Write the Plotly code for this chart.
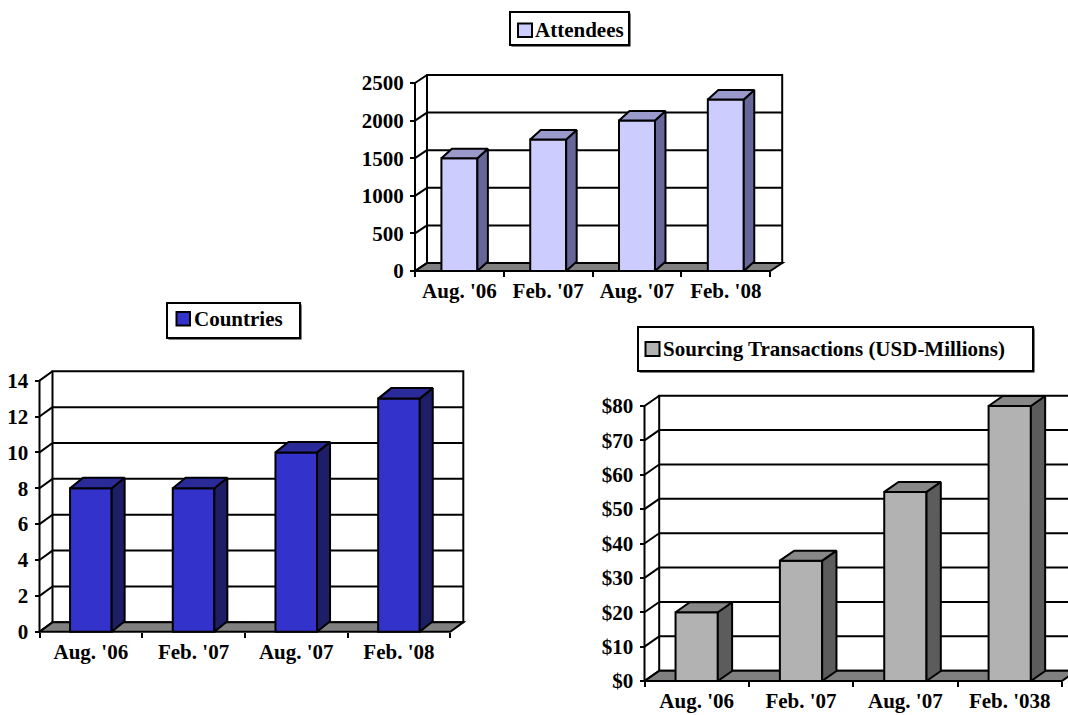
import plotly.graph_objects as go

# ---- data -------------------------------------------------------------
periods = ["Aug. '06", "Feb. '07", "Aug. '07", "Feb. '08"]
periods_sourcing = ["Aug. '06", "Feb. '07", "Aug. '07", "Feb. '038"]

attendees = [1500, 1750, 2000, 2280]
countries = [8, 8, 10, 13]
sourcing_musd = [20, 35, 55, 80]

attendees_ticks = [0, 500, 1000, 1500, 2000, 2500]
attendees_tick_labels = ["0", "500", "1000", "1500", "2000", "2500"]
countries_ticks = [0, 2, 4, 6, 8, 10, 12, 14]
countries_tick_labels = ["0", "2", "4", "6", "8", "10", "12", "14"]
sourcing_ticks = [0, 10, 20, 30, 40, 50, 60, 70, 80]
sourcing_tick_labels = ["$0", "$10", "$20", "$30", "$40", "$50", "$60", "$70", "$80"]

# ---- page geometry (pixels) -------------------------------------------
W, H = 1068, 715
FONT = dict(family="Liberation Serif, Times New Roman, serif", size=21, color="black", weight=700)
LW = 2
FLOOR = "#808080"

charts = [
    dict(name="Attendees", values=attendees, labels=periods,
         ticks=attendees_ticks, tick_labels=attendees_tick_labels,
         front="#CCCCFF", side="#666699", top="#9999CC",
         ox=415, oy=271, cw=88.8, vs=37.6 / 500, wall=(12, 8), bar=(10.5, 9.5),
         legend=dict(box=(510, 12, 629, 45), sw=(518, 23.5, 532, 37), tx=534)),
    dict(name="Countries", values=countries, labels=periods,
         ticks=countries_ticks, tick_labels=countries_tick_labels,
         front="#3333CC", side="#1E1E66", top="#2A2A99",
         ox=39.5, oy=631.7, cw=102.7, vs=35.86 / 2, wall=(13, 9.4), bar=(13, 10.5),
         legend=dict(box=(167, 303, 300, 338), sw=(176.5, 312, 190, 325.5), tx=193)),
    dict(name="Sourcing Transactions (USD-Millions)", values=sourcing_musd, labels=periods_sourcing,
         ticks=sourcing_ticks, tick_labels=sourcing_tick_labels,
         front="#B2B2B2", side="#5C5C5C", top="#888888",
         ox=644.5, oy=681, cw=104.35, vs=34.375 / 10, wall=(14.7, 10.3), bar=(14.3, 10),
         legend=dict(box=(638, 327, 1033, 371), sw=(645.5, 342, 659.5, 356), tx=662)),
]

BAR_W = 0.405
PAD = 4

fig = go.Figure()
shapes = []
annotations = []
layout_axes = {}

for k, c in enumerate(charts, start=1):
    xa = "x" if k == 1 else f"x{k}"
    ya = "y" if k == 1 else f"y{k}"
    xkey = "xaxis" if k == 1 else f"xaxis{k}"
    ykey = "yaxis" if k == 1 else f"yaxis{k}"

    ox, oy, cw, vs = c["ox"], c["oy"], c["cw"], c["vs"]
    n = len(c["values"])
    top_val = c["ticks"][-1]

    # plot-area extent in pixels
    right_px = min(ox + n * cw + c["wall"][0] + PAD, W)
    left_px = ox - PAD
    top_px = max(oy - top_val * vs - c["wall"][1] - PAD, 0)
    bottom_px = oy + PAD

    x0 = -0.5
    x1 = x0 + n
    x_range = [x0 - PAD / cw, x0 + (right_px - ox) / cw]
    y_range = [-PAD / vs, (oy - top_px) / vs]

    # depth offsets in data units
    wdx, wdy = c["wall"][0] / cw, c["wall"][1] / vs
    bdx, bdy = c["bar"][0] / cw, c["bar"][1] / vs

    layout_axes[xkey] = dict(
        domain=[left_px / W, right_px / W], range=x_range, anchor="free",
        position=1 - oy / H, tickmode="array", tickvals=list(range(n)),
        ticktext=c["labels"], ticks="outside", ticklen=0, tickcolor="rgba(0,0,0,0)",
        showline=False, showgrid=False, zeroline=False, tickfont=FONT,
        ticklabelstandoff=1, automargin=False,
        minor=dict(tickmode="array", tickvals=[i - 0.5 for i in range(n + 1)],
                   ticks="outside", ticklen=5, tickwidth=LW, tickcolor="black",
                   showgrid=False),
        fixedrange=True,
    )
    layout_axes[ykey] = dict(
        domain=[1 - bottom_px / H, 1 - top_px / H], range=y_range, anchor="free",
        position=ox / W, tickmode="array", tickvals=c["ticks"], ticktext=c["tick_labels"],
        ticks="outside", ticklen=5, tickwidth=LW, tickcolor="black",
        showline=False, showgrid=False, zeroline=False, tickfont=FONT,
        ticklabelstandoff=2, automargin=False, fixedrange=True,
    )

    ref = dict(xref=xa, yref=ya, layer="below")
    line = dict(color="black", width=LW)

    # back wall
    shapes.append(dict(type="rect", x0=x0 + wdx, x1=x1 + wdx, y0=wdy, y1=top_val + wdy,
                       fillcolor="white", line=line, **ref))
    # gridlines on the back wall
    for v in c["ticks"][1:-1]:
        shapes.append(dict(type="line", x0=x0 + wdx, x1=x1 + wdx, y0=v + wdy, y1=v + wdy,
                           line=line, **ref))
    # floor
    shapes.append(dict(type="path",
                       path=f"M {x0},0 L {x1},0 L {x1 + wdx},{wdy} L {x0 + wdx},{wdy} Z",
                       fillcolor=FLOOR, line=line, **ref))
    # left side wall: gridlines seen edge-on
    for v in c["ticks"]:
        shapes.append(dict(type="line", x0=x0, x1=x0 + wdx, y0=v, y1=v + wdy, line=line, **ref))
    # front value axis
    shapes.append(dict(type="line", x0=x0, x1=x0, y0=0, y1=top_val, line=line, **ref))

    # bar fronts
    fig.add_trace(go.Bar(
        x=list(range(n)), y=c["values"], width=BAR_W, xaxis=xa, yaxis=ya,
        marker=dict(color=c["front"], line=dict(color="black", width=LW)),
        showlegend=False, hoverinfo="skip",
    ))
    # bar sides and tops
    sx, sy, tx, ty = [], [], [], []
    for i, v in enumerate(c["values"]):
        r = i + BAR_W / 2
        l = i - BAR_W / 2
        sx += [r, r + bdx, r + bdx, r, r, None]
        sy += [0, bdy, v + bdy, v, 0, None]
        tx += [l, r, r + bdx, l + bdx, l, None]
        ty += [v, v, v + bdy, v + bdy, v, None]
    for px_, py_, col in ((sx, sy, c["side"]), (tx, ty, c["top"])):
        fig.add_trace(go.Scatter(
            x=px_, y=py_, xaxis=xa, yaxis=ya, mode="lines", fill="toself",
            fillcolor=col, line=dict(color="black", width=LW),
            showlegend=False, hoverinfo="skip",
        ))

    # legend box
    lg = c["legend"]
    bx0, by0, bx1, by1 = lg["box"]
    paper = dict(xref="paper", yref="paper")
    shapes.append(dict(type="rect", x0=(bx0 + 1.5) / W, x1=(bx1 + 1.5) / W,
                       y0=1 - (by1 + 1.5) / H, y1=1 - (by0 + 1.5) / H,
                       fillcolor="black", line=dict(width=0), layer="above", **paper))
    shapes.append(dict(type="rect", x0=bx0 / W, x1=bx1 / W, y0=1 - by1 / H, y1=1 - by0 / H,
                       fillcolor="white", line=dict(color="black", width=LW), layer="above", **paper))
    sx0, sy0, sx1, sy1 = lg["sw"]
    shapes.append(dict(type="rect", x0=sx0 / W, x1=sx1 / W, y0=1 - sy1 / H, y1=1 - sy0 / H,
                       fillcolor=c["front"], line=dict(color="black", width=LW), layer="above", **paper))
    annotations.append(dict(text=c["name"], x=lg["tx"] / W, y=1 - (sy0 + sy1) / 2 / H,
                            xref="paper", yref="paper", xanchor="left", yanchor="middle",
                            showarrow=False, font=FONT, borderpad=0))

fig.update_layout(
    width=W, height=H, margin=dict(l=0, r=0, t=0, b=0, pad=0, autoexpand=False),
    paper_bgcolor="white", plot_bgcolor="rgba(0,0,0,0)",
    showlegend=False, shapes=shapes, annotations=annotations,
    **layout_axes,
)

fig.write_html("out.html", config={"displayModeBar": False})
